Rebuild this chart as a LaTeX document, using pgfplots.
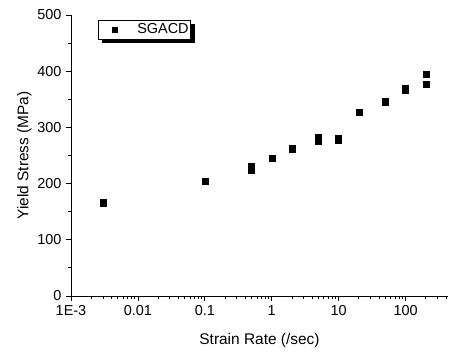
\documentclass[border=0pt]{standalone}
\usepackage{fontspec}
\setmainfont{Liberation Sans}
\usepackage{pgfplots}
\pgfplotsset{compat=1.18}
\begin{document}
\begin{tikzpicture}
\path[use as bounding box] (-71bp,-57bp) rectangle (380bp,296bp);
\begin{axis}[
  at={(0,0)}, anchor=south west,
  scale only axis, width=377bp, height=281bp,
  xmode=log, xmin=1e-3, xmax=430,
  ymin=0, ymax=500,
  axis lines*=left,
  axis line style={line width=0.9bp},
  tick style={line width=0.8bp, black},
  tick align=outside,
  major tick length=5bp, minor tick length=3bp,
  xtick={0.001,0.01,0.1,1,10,100},
  xticklabels={1E-3,0.01,0.1,1,10,100},
  minor xtick={0.002,0.003,0.004,0.005,0.006,0.007,0.008,0.009,
    0.02,0.03,0.04,0.05,0.06,0.07,0.08,0.09,
    0.2,0.3,0.4,0.5,0.6,0.7,0.8,0.9,
    2,3,4,5,6,7,8,9,20,30,40,50,60,70,80,90,200,300,400},
  ytick={0,100,200,300,400,500},
  minor ytick={50,150,250,350,450},
  /pgf/number format/assume math mode=true,
  tick label style={font=\fontsize{14.5}{15}\selectfont},
  xticklabel style={yshift=-1bp},
  yticklabel style={xshift=-1bp},
  label style={font=\fontsize{15.5}{17}\selectfont},
  xlabel={Strain Rate (/sec)},
  ylabel={Yield Stress (MPa)},
  xlabel style={yshift=-11bp},
  ylabel style={yshift=-1bp},
  legend style={name=leg, at={(axis description cs:0.0716,0.982)}, anchor=north west,
    draw=black, line width=0.6bp, fill=white, inner xsep=0bp, inner ysep=1.5bp,
    font=\fontsize{14.5}{15}\selectfont},
  legend cell align=left,
  legend image code/.code={\path[draw=none, fill=none] (0bp,0bp) -- (24bp,0bp);
    \path[#1, draw=none, mark size=2.5bp] plot[only marks] coordinates {(17bp,0bp)};},
]
\addplot[only marks, mark=square*, mark size=3bp, black] coordinates {
(0.003,165) (0.003,167)
(0.1,205)
(0.5,223) (0.5,231)
(1,246)
(2,261) (2,263)
(5,275) (5,282)
(10,277) (10,281)
(20,327)
(50,345) (50,347)
(100,367) (100,370)
(200,377) (200,395)
};
\addlegendentry{\hspace{13bp}SGACD\hspace{16bp}}
\end{axis}
\fill[black] ([xshift=4bp,yshift=-4bp]leg.south west) rectangle ([xshift=4bp]leg.south east);
\fill[black] ([yshift=-4bp]leg.north east) rectangle ([xshift=4bp,yshift=-4bp]leg.south east);
\end{tikzpicture}
\end{document}
